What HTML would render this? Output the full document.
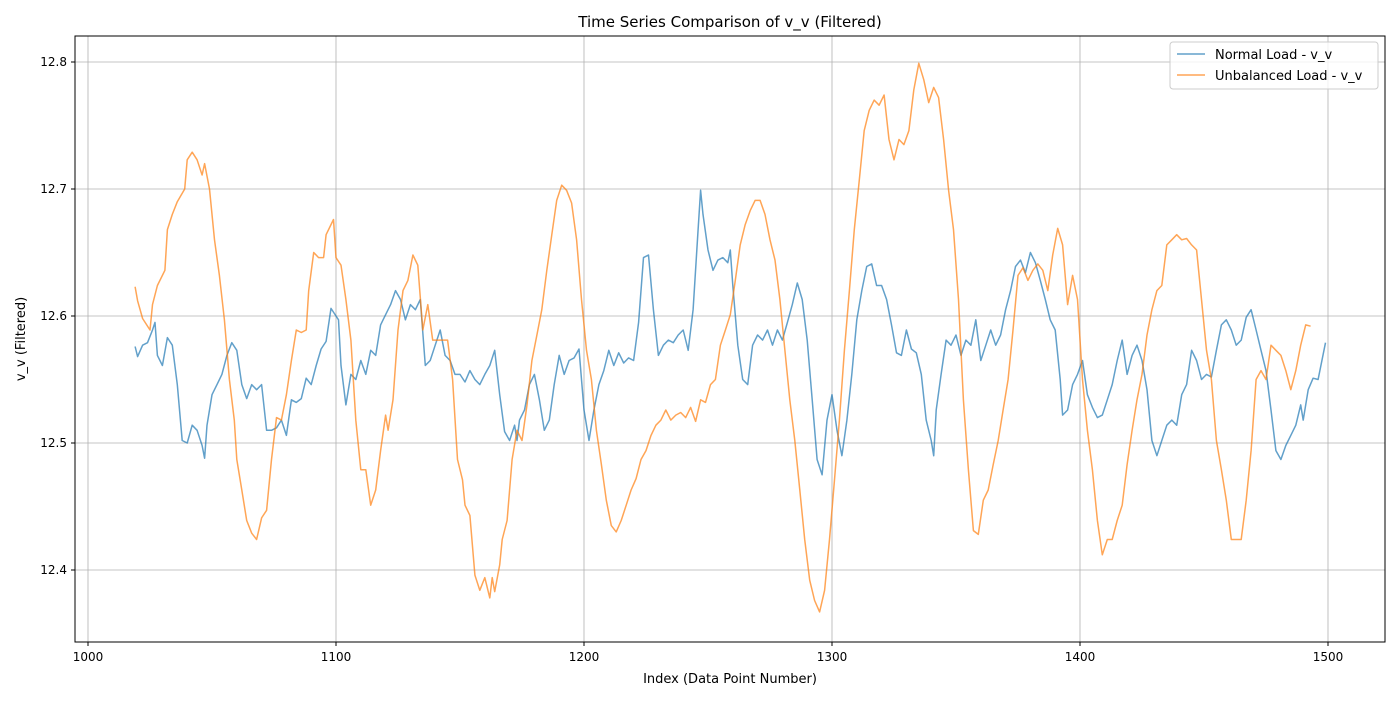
<!DOCTYPE html>
<html><head><meta charset="utf-8"><style>
body{margin:0;background:#fff;font-family:"Liberation Sans","DejaVu Sans",sans-serif}
svg text{font-family:"DejaVu Sans","Liberation Sans",sans-serif;fill:#000}
</style></head><body>
<svg id="chart" width="1400" height="700" viewBox="0 0 1400 700" xmlns="http://www.w3.org/2000/svg">
<rect x="0" y="0" width="1400" height="700" fill="#fff"/>
<text x="730" y="27" font-size="15" text-anchor="middle">Time Series Comparison of v_v (Filtered)</text>
<g id="grid"></g><g id="series"></g>
<rect x="75" y="36" width="1310" height="606" fill="none" stroke="#000" stroke-width="1"/>
<g id="ticks"></g>
<text x="730" y="683" font-size="13" text-anchor="middle">Index (Data Point Number)</text>
<text x="25" y="339" font-size="13" text-anchor="middle" transform="rotate(-90 25 339)">v_v (Filtered)</text>
<g>
<rect x="1170" y="42" width="208" height="47" rx="3" fill="#fff" fill-opacity="0.8" stroke="#ccc"/>
<line x1="1177" y1="54" x2="1205" y2="54" stroke="#1f77b4" stroke-opacity="0.7" stroke-width="1.5"/>
<text x="1215" y="59" font-size="13">Normal Load - v_v</text>
<line x1="1177" y1="75" x2="1205" y2="75" stroke="#ff7f0e" stroke-opacity="0.7" stroke-width="1.5"/>
<text x="1215" y="80" font-size="13">Unbalanced Load - v_v</text>
</g>
</svg>
<script>
const xTicks=[1000,1100,1200,1300,1400,1500];
const yTicks=[12.4,12.5,12.6,12.7,12.8];
const normalX=[1019,1020,1022,1024,1026,1027,1028,1030,1032,1034,1036,1038,1040,1042,1044,1046,1047,1048,1050,1052,1054,1056,1058,1060,1062,1064,1066,1068,1070,1072,1074,1076,1078,1080,1082,1084,1086,1088,1090,1092,1094,1096,1098,1100,1101,1102,1104,1106,1108,1110,1112,1114,1116,1118,1120,1122,1124,1126,1128,1130,1132,1134,1136,1138,1140,1142,1144,1146,1148,1150,1152,1154,1156,1158,1160,1162,1164,1166,1168,1170,1172,1173,1174,1176,1178,1180,1182,1184,1186,1188,1190,1192,1194,1196,1198,1200,1202,1204,1206,1208,1210,1212,1214,1216,1218,1220,1222,1224,1226,1228,1230,1232,1234,1236,1238,1240,1242,1244,1246,1247,1248,1250,1252,1254,1256,1258,1259,1260,1262,1264,1266,1268,1270,1272,1274,1276,1278,1280,1282,1284,1286,1288,1290,1292,1294,1296,1298,1300,1302,1304,1306,1308,1310,1312,1314,1316,1318,1320,1322,1324,1326,1328,1330,1332,1334,1336,1338,1340,1341,1342,1344,1346,1348,1350,1352,1354,1356,1358,1360,1362,1364,1366,1368,1370,1372,1374,1376,1378,1380,1382,1384,1386,1388,1390,1392,1393,1395,1397,1399,1401,1403,1405,1407,1409,1411,1413,1415,1417,1419,1421,1423,1425,1427,1429,1431,1433,1435,1437,1439,1441,1443,1445,1447,1449,1451,1453,1455,1457,1459,1461,1463,1465,1467,1469,1471,1473,1475,1477,1479,1481,1483,1485,1487,1489,1490,1492,1494,1496,1499];
const normalY=[12.576,12.568,12.577,12.579,12.589,12.595,12.569,12.561,12.583,12.577,12.546,12.502,12.5,12.514,12.51,12.498,12.488,12.514,12.538,12.546,12.554,12.569,12.579,12.573,12.546,12.535,12.546,12.542,12.546,12.51,12.51,12.512,12.518,12.506,12.534,12.532,12.535,12.551,12.546,12.561,12.574,12.58,12.606,12.6,12.597,12.561,12.53,12.554,12.55,12.565,12.554,12.573,12.569,12.593,12.601,12.609,12.62,12.613,12.597,12.609,12.605,12.613,12.561,12.565,12.577,12.589,12.569,12.565,12.554,12.554,12.548,12.557,12.55,12.546,12.554,12.561,12.573,12.538,12.509,12.502,12.514,12.502,12.518,12.526,12.546,12.554,12.534,12.51,12.518,12.546,12.569,12.554,12.565,12.567,12.574,12.526,12.502,12.526,12.546,12.557,12.573,12.561,12.571,12.563,12.567,12.565,12.595,12.646,12.648,12.605,12.569,12.577,12.581,12.579,12.585,12.589,12.573,12.605,12.668,12.699,12.68,12.652,12.636,12.644,12.646,12.642,12.652,12.624,12.577,12.55,12.546,12.577,12.585,12.581,12.589,12.577,12.589,12.581,12.595,12.609,12.626,12.613,12.581,12.534,12.487,12.475,12.518,12.538,12.51,12.49,12.518,12.554,12.597,12.62,12.639,12.641,12.624,12.624,12.613,12.593,12.571,12.569,12.589,12.574,12.571,12.554,12.518,12.502,12.49,12.526,12.554,12.581,12.577,12.585,12.569,12.581,12.577,12.597,12.565,12.577,12.589,12.577,12.585,12.605,12.62,12.639,12.644,12.634,12.65,12.642,12.628,12.613,12.597,12.589,12.55,12.522,12.526,12.546,12.554,12.565,12.538,12.528,12.52,12.522,12.534,12.546,12.565,12.581,12.554,12.569,12.577,12.565,12.542,12.502,12.49,12.502,12.514,12.518,12.514,12.538,12.546,12.573,12.565,12.55,12.554,12.552,12.573,12.593,12.597,12.589,12.577,12.581,12.599,12.605,12.589,12.573,12.557,12.526,12.494,12.487,12.498,12.506,12.514,12.53,12.518,12.542,12.551,12.55,12.579];
const unbalX=[1019,1020,1022,1025,1026,1028,1031,1032,1034,1036,1039,1040,1042,1044,1046,1047,1049,1051,1053,1055,1057,1059,1060,1062,1064,1066,1068,1070,1072,1074,1076,1078,1080,1082,1084,1086,1088,1089,1091,1093,1095,1096,1099,1100,1102,1104,1106,1108,1110,1112,1114,1116,1118,1120,1121,1123,1125,1127,1129,1131,1133,1135,1137,1139,1141,1143,1145,1147,1149,1151,1152,1154,1156,1158,1160,1162,1163,1164,1166,1167,1169,1171,1173,1175,1177,1179,1181,1183,1185,1187,1189,1191,1193,1195,1197,1199,1201,1203,1205,1207,1209,1211,1213,1215,1217,1219,1221,1223,1225,1227,1229,1231,1233,1235,1237,1239,1241,1243,1245,1247,1249,1251,1253,1255,1257,1259,1261,1263,1265,1267,1269,1271,1273,1275,1277,1279,1281,1283,1285,1287,1289,1291,1293,1295,1297,1299,1301,1303,1305,1307,1309,1311,1313,1315,1317,1319,1321,1323,1325,1327,1329,1331,1333,1335,1337,1339,1341,1343,1345,1347,1349,1351,1353,1355,1357,1359,1361,1363,1365,1367,1369,1371,1373,1375,1377,1379,1381,1383,1385,1387,1389,1391,1393,1395,1397,1399,1401,1403,1405,1407,1409,1411,1413,1415,1417,1419,1421,1423,1425,1427,1429,1431,1433,1435,1437,1439,1441,1443,1445,1447,1449,1451,1453,1455,1457,1459,1461,1463,1465,1467,1469,1471,1473,1475,1477,1479,1481,1483,1485,1487,1489,1491,1493,1495,1497,1499];
const unbalY=[12.623,12.612,12.598,12.589,12.609,12.624,12.636,12.668,12.68,12.69,12.70,12.723,12.729,12.723,12.711,12.72,12.70,12.66,12.632,12.597,12.55,12.518,12.487,12.463,12.439,12.429,12.424,12.441,12.447,12.487,12.52,12.518,12.538,12.565,12.589,12.587,12.589,12.62,12.65,12.646,12.646,12.664,12.676,12.646,12.64,12.613,12.581,12.518,12.479,12.479,12.451,12.463,12.494,12.522,12.51,12.534,12.589,12.62,12.628,12.648,12.64,12.589,12.609,12.581,12.581,12.581,12.581,12.55,12.487,12.471,12.451,12.443,12.396,12.384,12.394,12.378,12.394,12.383,12.404,12.424,12.439,12.487,12.51,12.502,12.53,12.565,12.585,12.605,12.636,12.664,12.691,12.703,12.699,12.689,12.66,12.613,12.573,12.55,12.51,12.483,12.455,12.435,12.43,12.439,12.451,12.463,12.472,12.487,12.494,12.506,12.514,12.518,12.526,12.518,12.522,12.524,12.52,12.528,12.517,12.534,12.532,12.546,12.55,12.577,12.589,12.601,12.628,12.656,12.672,12.683,12.691,12.691,12.68,12.66,12.644,12.613,12.573,12.534,12.502,12.463,12.424,12.392,12.376,12.367,12.384,12.424,12.471,12.518,12.573,12.62,12.668,12.707,12.746,12.762,12.77,12.766,12.774,12.739,12.723,12.739,12.735,12.746,12.778,12.799,12.786,12.768,12.78,12.772,12.739,12.699,12.668,12.613,12.534,12.479,12.431,12.428,12.455,12.463,12.483,12.502,12.526,12.55,12.589,12.632,12.638,12.628,12.636,12.641,12.636,12.62,12.648,12.669,12.656,12.609,12.632,12.613,12.55,12.51,12.479,12.439,12.412,12.424,12.424,12.439,12.451,12.483,12.51,12.534,12.554,12.585,12.605,12.62,12.624,12.656,12.66,12.664,12.66,12.661,12.656,12.652,12.613,12.573,12.55,12.502,12.479,12.455,12.424,12.424,12.424,12.455,12.494,12.55,12.557,12.55,12.577,12.573,12.569,12.557,12.542,12.557,12.577,12.593,12.592];
const NS='http://www.w3.org/2000/svg';
const L=75,R=1385,T=36,B=642;
function xs(v){return 88+(v-1000)*2.48;}
function ys(v){return 62+(12.8-v)*1270;}
const grid=document.getElementById('grid'),ticks=document.getElementById('ticks'),ser=document.getElementById('series');
function mk(tag,attrs,parent){const e=document.createElementNS(NS,tag);for(const k in attrs)e.setAttribute(k,attrs[k]);parent.appendChild(e);return e;}
xTicks.forEach(t=>{const x=xs(t);
 const g=mk('line',{x1:x,x2:x,y1:T,y2:B,stroke:'#b0b0b0','stroke-width':0.8},grid);
 
 
 mk('line',{x1:x,x2:x,y1:B,y2:B+4,stroke:'#000'},ticks);
 const tx=mk('text',{x:x,y:B+19,'font-size':12,'text-anchor':'middle'},ticks);tx.textContent=t;
 
 
});
yTicks.forEach(t=>{const y=ys(t);
 const g=mk('line',{x1:L,x2:R,y1:y,y2:y,stroke:'#b0b0b0','stroke-width':0.8},grid);
 
 
 mk('line',{x1:L-4,x2:L,y1:y,y2:y,stroke:'#000'},ticks);
 const tx=mk('text',{x:L-8,y:y+4,'font-size':12,'text-anchor':'end'},ticks);tx.textContent=t.toFixed(1);
 
 
});
function line(X,Y,color,name){
 const d=X.map((x,i)=>(i?'L':'M')+xs(x).toFixed(1)+','+ys(Y[i]).toFixed(1)).join('');
 const p=mk('path',{d:d,fill:'none',stroke:color,'stroke-opacity':0.7,'stroke-width':1.5,'stroke-linejoin':'round'},ser);
 
 
}
line(normalX,normalY,'#1f77b4','normal-load-line');
line(unbalX,unbalY,'#ff7f0e','unbalanced-load-line');
</script>
</body></html>
